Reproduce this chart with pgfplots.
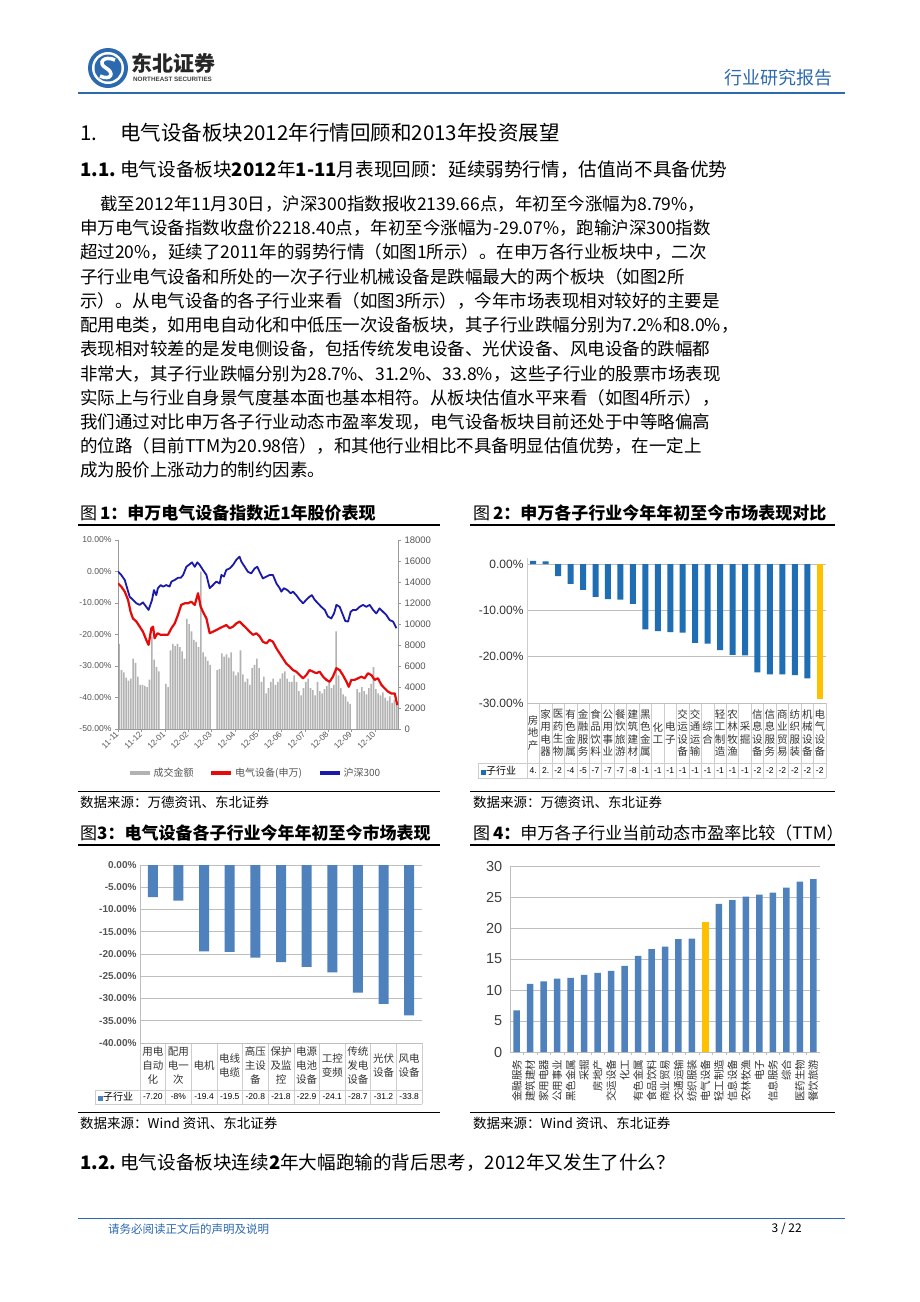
\documentclass[border=0pt]{standalone}
\usepackage{fontspec}
\usepackage{pgfplots}
\pgfplotsset{compat=1.18}
\setmainfont{Noto Sans CJK SC}
\newfontfamily\arial{Liberation Sans}
\definecolor{hdrblue}{RGB}{45,105,175}
\definecolor{barblue}{RGB}{31,110,180}
\definecolor{steel}{RGB}{79,129,189}
\definecolor{gold}{RGB}{255,192,0}
\definecolor{volgray}{RGB}{178,178,178}
\definecolor{txtgray}{RGB}{85,85,85}
\definecolor{gridgray}{RGB}{190,190,190}
\definecolor{cellgray}{RGB}{205,205,205}
\definecolor{hsred}{RGB}{230,10,10}
\definecolor{hsblue}{RGB}{25,25,170}
\newcommand\fs[2]{\fontsize{#1}{#2}\selectfont}

\begin{document}
\begin{tikzpicture}
\path[use as bounding box, fill=white] (0,0) rectangle (920pt,-1302pt);

% ---------- page furniture and text (pixel coordinates) ----------
\begin{scope}[x=1pt, y=-1pt, every node/.style={inner sep=0pt, anchor=west}]
  % logo
  \fill[hdrblue] (108,68) circle (20);
  \fill[white] (108,68) circle (16);
  \fill[hdrblue] (108,68) circle (13.5);
  \draw[white, line width=3.5] (115,60) .. controls (104,55) and (97,63) .. (106,68)
        .. controls (115,73) and (111,81) .. (100,76);
  \node at (131,63) {\fs{21}{22}\bfseries\color{black!85}东北证券};
  \node at (133,79) {\arial\bfseries\fs{6.3}{7}\color{black!75}NORTHEAST SECURITIES};
  \node[anchor=east] at (833,78) {\fs{18}{20}\color{hdrblue}行业研究报告};
  \fill[hdrblue] (78,92) rectangle (845,94);

  % headings and body
  \node at (80,133) {\fs{20.5}{24}1.};
  \node at (120,133) {\fs{20.5}{24}电气设备板块2012年行情回顾和2013年投资展望};
  \node at (80,170) {\fs{18.6}{22}\bfseries 1.1.};
  \node at (120,170) {\fs{18.6}{22}电气设备板块\textbf{2012}年\textbf{1-11}月表现回顾：延续弱势行情，估值尚不具备优势};

  \begin{scope}[every node/.append style={font=\fs{17.5}{20}}]
  \node at (100,204) {截至2012年11月30日，沪深300指数报收2139.66点，年初至今涨幅为8.79\%，};
  \node at (80,228) {申万电气设备指数收盘价2218.40点，年初至今涨幅为-29.07\%，跑输沪深300指数};
  \node at (80,252) {超过20\%，延续了2011年的弱势行情（如图1所示）。在申万各行业板块中，二次};
  \node at (80,277) {子行业电气设备和所处的一次子行业机械设备是跌幅最大的两个板块（如图2所};
  \node at (80,301) {示）。从电气设备的各子行业来看（如图3所示），今年市场表现相对较好的主要是};
  \node at (80,325) {配用电类，如用电自动化和中低压一次设备板块，其子行业跌幅分别为7.2\%和8.0\%，};
  \node at (80,349) {表现相对较差的是发电侧设备，包括传统发电设备、光伏设备、风电设备的跌幅都};
  \node at (80,374) {非常大，其子行业跌幅分别为28.7\%、31.2\%、33.8\%，这些子行业的股票市场表现};
  \node at (80,398) {实际上与行业自身景气度基本面也基本相符。从板块估值水平来看（如图4所示），};
  \node at (80,422) {我们通过对比申万各子行业动态市盈率发现，电气设备板块目前还处于中等略偏高};
  \node at (80,446) {的位路（目前TTM为20.98倍），和其他行业相比不具备明显估值优势，在一定上};
  \node at (80,470) {成为股价上涨动力的制约因素。};
  \end{scope}

  % captions and rules
  \node at (80,513) {\fs{17}{20}图\,\textbf{1：申万电气设备指数近1年股价表现}};
  \node at (473,513) {\fs{17}{20}图\,\textbf{2：申万各子行业今年年初至今市场表现对比}};
  \fill (78,524) rectangle (440,526);
  \fill (470,524) rectangle (835,526);
  \fill (78,790.5) rectangle (440,791.7);
  \fill (470,790.5) rectangle (835,791.7);
  \node at (80,802) {\fs{13.5}{15}数据来源：万德资讯、东北证券};
  \node at (473,802) {\fs{13.5}{15}数据来源：万德资讯、东北证券};

  \node at (80,833) {\fs{17}{20}图\textbf{3：电气设备各子行业今年年初至今市场表现}};
  \node at (473,833) {\fs{17}{20}图\,\textbf{4：}申万各子行业当前动态市盈率比较（TTM）};
  \fill (78,844) rectangle (440,846);
  \fill (470,844) rectangle (835,846);
  \fill (78,1111.5) rectangle (440,1112.7);
  \fill (470,1111.5) rectangle (835,1112.7);
  \node at (80,1123) {\fs{13.5}{15}数据来源：Wind 资讯、东北证券};
  \node at (473,1123) {\fs{13.5}{15}数据来源：Wind 资讯、东北证券};

  \node at (80,1163) {\fs{18.6}{22}\bfseries 1.2.};
  \node at (120,1163) {\fs{18.6}{22}电气设备板块连续\textbf{2}年大幅跑输的背后思考，2012年又发生了什么？};

  % footer
  \fill[hdrblue] (78,1217.5) rectangle (845,1219);
  \node at (108,1229) {\fs{11.5}{13}\color{hdrblue}请务必阅读正文后的声明及说明};
  \node[anchor=east] at (802,1229) {\fs{12}{13}3 / 22};

  % table under figure 2
  \foreach \k in {0,...,24}
    \draw[cellgray, line width=0.6] ({527+12.4583*\k},703) -- ({527+12.4583*\k},778);
  \draw[cellgray, line width=0.6] (478,763) -- (826,763) (478,778) -- (826,778) (478,763) -- (478,778);
  \foreach \v [count=\i from 0] in {4.,2.,-2,-4,-5,-7,-7,-7,-8,-1,-1,-1,-1,-1,-1,-1,-1,-1,-2,-2,-2,-2,-2,-2}
    \node[anchor=center, font=\arial\fs{8.5}{9}] at ({533.2+12.4583*\i},771) {\v};
  \node at (481,771) {\textcolor{barblue}{\rule{5pt}{5pt}}\fs{10}{11}子行业};

  % table under figure 3
  \foreach \k in {0,...,11}
    \draw[cellgray, line width=0.6] ({140+25.636*\k},1043) -- ({140+25.636*\k},1104);
  \draw[cellgray, line width=0.6] (95,1090) -- (422,1090) (95,1104) -- (422,1104) (95,1090) -- (95,1104);
  \foreach \v [count=\i from 0] in {-7.20,-8\%,-19.4,-19.5,-20.8,-21.8,-22.9,-24.1,-28.7,-31.2,-33.8}
    \node[anchor=center, font=\arial\fs{8.5}{9}] at ({152.8+25.636*\i},1097) {\v};
  \node at (98,1097) {\textcolor{steel}{\rule{5pt}{5pt}}\fs{10}{11}子行业};
\end{scope}

% ---------- figure 1: volume (right axis) ----------
\begin{axis}[at={(118pt,-540pt)}, anchor=north west, scale only axis,
  width=280pt, height=189pt, xmin=0, xmax=12, ymin=0, ymax=18000,
  axis x line=none, axis y line*=right, axis line style={-, draw=txtgray!60},
  ytick={0,2000,...,18000}, scaled y ticks=false,
  ytick style={draw=txtgray!60}, tick align=outside, major tick length=3pt,
  yticklabel style={font=\arial\fs{9.5}{10}, text=txtgray},
  /pgf/number format/1000 sep={}, /pgf/number format/assume math mode=true]
\addplot[ybar, bar width=1.6pt, fill=volgray, draw=none] coordinates {
(0.05,8100) (0.15,5600) (0.25,5400) (0.35,4900) (0.45,4600) (0.55,4800) (0.65,6700) (0.75,6300) (0.85,5000) (0.95,4200)
(1.05,4200) (1.15,4100) (1.25,4000) (1.35,4700) (1.45,8800) (1.55,6600) (1.65,5900) (1.75,5500)
(2.05,4300) (2.15,4000) (2.25,7500) (2.35,8100) (2.45,7900) (2.55,8100) (2.65,7800) (2.75,7400) (2.85,6700) (2.95,10500)
(3.05,10000) (3.15,9300) (3.25,8500) (3.35,8300) (3.45,7800) (3.55,15000) (3.65,7300) (3.75,6900) (3.85,6500) (3.95,6100)
(4.25,5600) (4.35,5700) (4.45,7200) (4.55,6900) (4.65,7100) (4.75,6800) (4.85,7300) (4.95,5500)
(5.05,5100) (5.15,5400) (5.25,7500) (5.35,5200) (5.45,4500) (5.55,4800) (5.65,4200) (5.75,5800) (5.85,6100) (5.95,6700)
(6.05,5800) (6.15,4500) (6.25,5000) (6.35,3400) (6.45,3900) (6.55,4500) (6.65,4800) (6.75,4200) (6.85,4500) (6.95,4800)
(7.05,5300) (7.15,5500) (7.25,4800) (7.35,4500) (7.45,4500) (7.55,5100) (7.65,4500) (7.75,3600) (7.85,3200) (7.95,3900)
(8.05,4500) (8.15,4800) (8.25,3900) (8.35,3700) (8.45,3200) (8.55,4500) (8.65,3600) (8.75,3400) (8.85,3800) (8.95,4100)
(9.05,4500) (9.15,3900) (9.25,4200) (9.35,9300) (9.45,5100) (9.55,3900) (9.65,3300) (9.75,3100) (9.85,2600) (9.95,2400)
(10.25,3800) (10.35,3500) (10.45,4000) (10.55,3600) (10.65,3300) (10.75,3900) (10.85,4300) (10.95,5900)
(11.05,3800) (11.15,3400) (11.25,3200) (11.35,3500) (11.45,3000) (11.55,2700) (11.65,3100) (11.75,2500) (11.85,2800) (11.95,2400)
};
\end{axis}

% ---------- figure 1: index lines (left axis) ----------
\begin{axis}[at={(118pt,-540pt)}, anchor=north west, scale only axis,
  width=280pt, height=189pt, xmin=0, xmax=12, ymin=-50, ymax=10,
  axis y line*=left, axis x line*=bottom, axis line style={-, draw=txtgray!60},
  tick style={draw=txtgray!60}, tick align=outside, major tick length=3pt,
  ytick={-50,-40,...,10},
  yticklabels={-50.00\%,-40.00\%,-30.00\%,-20.00\%,-10.00\%,0.00\%,10.00\%},
  yticklabel style={font=\arial\fs{8.6}{9}, text=txtgray},
  xtick={0,...,11},
  xticklabels={11-11,11-12,12-01,12-02,12-03,12-04,12-05,12-06,12-07,12-08,12-09,12-10},
  xticklabel style={rotate=45, anchor=east, inner sep=1pt, font=\arial\fs{8.3}{9}, text=txtgray},
  legend style={at={(0.49,-0.233)}, anchor=center, draw=none, fill=none,
    legend columns=3, font=\fs{10}{11}, text=txtgray,
    /tikz/every even column/.append style={column sep=14pt}},
  legend image code/.code={\draw[#1, line width=3.5pt] (0pt,0pt) -- (20pt,0pt);}]
\addlegendimage{volgray}
\addlegendentry{成交金额}
\addplot[hsred, line width=2.2pt, line join=round, mark=none] coordinates {
(0.00,-3.8) (0.14,-4.8) (0.29,-6.4) (0.43,-9.0) (0.54,-12.8) (0.64,-14.9) (0.79,-15.9) (0.93,-17.5)
(1.07,-19.1) (1.21,-21.7) (1.31,-23.3) (1.43,-18.0) (1.50,-17.5) (1.57,-21.2) (1.69,-19.6) (1.83,-20.1)
(2.00,-20.1) (2.14,-20.1) (2.29,-18.0) (2.43,-16.5) (2.57,-13.8) (2.71,-10.6) (2.86,-10.1) (3.00,-10.1)
(3.14,-9.6) (3.29,-10.6) (3.43,-6.9) (3.54,-11.1) (3.64,-12.8) (3.79,-14.9) (3.93,-19.6) (4.07,-19.1)
(4.21,-18.6) (4.36,-18.0) (4.50,-17.5) (4.64,-17.0) (4.79,-18.0) (4.93,-17.5) (5.07,-16.5) (5.21,-15.9)
(5.36,-17.0) (5.50,-18.0) (5.64,-19.1) (5.79,-20.1) (5.93,-19.6) (6.07,-20.6) (6.21,-22.3) (6.36,-22.8)
(6.50,-21.7) (6.64,-22.3) (6.79,-24.4) (6.93,-26.0) (7.07,-27.6) (7.21,-29.2) (7.36,-30.2) (7.50,-31.3)
(7.64,-31.8) (7.79,-32.9) (7.93,-33.9) (8.07,-32.9) (8.21,-31.3) (8.36,-31.8) (8.50,-32.3) (8.64,-31.8)
(8.79,-33.4) (8.93,-34.4) (9.07,-35.0) (9.21,-33.4) (9.36,-30.7) (9.50,-31.3) (9.64,-32.9) (9.79,-35.0)
(9.89,-36.6) (10.00,-34.4) (10.14,-34.4) (10.29,-33.9) (10.43,-33.4) (10.57,-33.9) (10.71,-32.3) (10.86,-32.9)
(11.00,-34.4) (11.14,-33.9) (11.29,-36.0) (11.43,-37.1) (11.57,-38.1) (11.71,-38.7) (11.86,-38.7) (11.97,-42.4)
};
\addlegendentry{电气设备(申万)}
\addplot[hsblue, line width=1.8pt, line join=round, mark=none] coordinates {
(0.00,0.0) (0.14,-1.1) (0.29,-2.7) (0.50,-8.0) (0.64,-9.0) (0.79,-10.1) (0.93,-10.6) (1.07,-9.8)
(1.21,-11.2) (1.31,-12.2) (1.46,-9.0) (1.54,-5.9) (1.64,-7.5) (1.71,-5.3) (1.83,-4.3) (1.93,-4.8)
(2.07,-4.3) (2.21,-4.8) (2.29,-3.2) (2.43,-2.7) (2.57,-2.0) (2.69,-2.0) (2.79,-1.1) (2.93,1.5)
(3.07,2.3) (3.17,2.9) (3.29,1.5) (3.40,2.9) (3.50,2.1) (3.64,0.5) (3.79,-1.1) (3.93,-5.3)
(4.07,-4.3) (4.21,-3.2) (4.36,-3.8) (4.43,-1.1) (4.54,-1.6) (4.64,0.5) (4.79,1.0) (4.93,2.1)
(5.07,3.7) (5.21,4.7) (5.29,3.1) (5.43,1.5) (5.57,-0.1) (5.71,-0.6) (5.86,1.0) (5.97,1.5)
(6.07,-0.1) (6.21,-2.2) (6.36,-1.6) (6.50,-1.1) (6.64,-1.1) (6.79,-3.8) (6.93,-5.3) (7.00,-6.4)
(7.11,-5.3) (7.26,-5.9) (7.40,-6.9) (7.50,-6.4) (7.64,-7.5) (7.79,-9.0) (7.93,-10.1) (8.07,-9.0)
(8.21,-8.0) (8.31,-7.5) (8.43,-9.0) (8.57,-10.1) (8.71,-11.2) (8.86,-12.2) (9.00,-14.3) (9.14,-14.9)
(9.26,-13.3) (9.36,-10.6) (9.50,-11.2) (9.64,-13.8) (9.74,-15.7) (9.86,-15.9) (9.97,-12.8) (10.07,-12.2)
(10.21,-12.2) (10.36,-11.2) (10.50,-10.6) (10.64,-11.2) (10.79,-10.6) (10.93,-12.2) (11.07,-13.3) (11.21,-11.7)
(11.36,-12.8) (11.50,-13.8) (11.64,-15.4) (11.79,-15.9) (11.93,-18.0)
};
\addlegendentry{沪深300}
\end{axis}

% ---------- figure 2 ----------
\begin{axis}[at={(527pt,-558pt)}, anchor=north west, scale only axis,
  width=299pt, height=145pt, xmin=-0.5, xmax=23.5, ymin=-30, ymax=1.3,
  separate axis lines, axis x line*=bottom, axis y line*=left,
  x axis line style={draw=none}, y axis line style={-, draw=cellgray},
  tick style={draw=none},
  ymajorgrids, grid style={gridgray, line width=0.6pt},
  ytick={-30,-20,-10,0},
  yticklabels={-30.00\%,-20.00\%,-10.00\%,0.00\%},
  yticklabel style={font=\arial\fs{12}{13}, text=black!80},
  xtick={0,...,23},
  xticklabels={{房\\地\\产},{家\\用\\电\\器},{医\\药\\生\\物},{有\\色\\金\\属},{金\\融\\服\\务},{食\\品\\饮\\料},{公\\用\\事\\业},{餐\\饮\\旅\\游},{建\\筑\\建\\材},{黑\\色\\金\\属},{化\\工},{电\\子},{交\\运\\设\\备},{交\\通\\运\\输},{综\\合},{轻\\工\\制\\造},{农\\林\\牧\\渔},{采\\掘},{信\\息\\设\\备},{信\\息\\服\\务},{商\\业\\贸\\易},{纺\\织\\服\\装},{机\\械\\设\\备},{电\\气\\设\\备}},
  xticklabel style={font=\fs{10.5}{12.5}, align=center, anchor=center, inner sep=0pt, yshift=-30pt, text=black!80}]
\addplot[ybar, bar width=6pt, bar shift=0pt, fill=barblue, draw=none] coordinates {
(0,0.7) (1,0.6) (2,-2.6) (3,-4.3) (4,-5.6) (5,-7.1) (6,-7.6) (7,-7.7) (8,-8.6) (9,-14.1) (10,-14.5) (11,-14.7)
(12,-14.8) (13,-17.0) (14,-17.2) (15,-18.6) (16,-19.6) (17,-19.7) (18,-23.4) (19,-23.8) (20,-23.8) (21,-24.0) (22,-24.7)
};
\addplot[ybar, bar width=6pt, bar shift=0pt, fill=gold, draw=none] coordinates {(23,-29.07)};
\end{axis}

% ---------- figure 3 ----------
\begin{axis}[at={(140pt,-865pt)}, anchor=north west, scale only axis,
  width=282pt, height=178pt, xmin=-0.5, xmax=10.5, ymin=-40, ymax=0,
  separate axis lines, axis x line*=bottom, axis y line*=left,
  x axis line style={draw=none}, y axis line style={-, draw=gridgray},
  tick style={draw=none},
  ymajorgrids, grid style={gridgray, line width=0.6pt},
  ytick={-40,-35,...,0},
  yticklabels={-40.00\%,-35.00\%,-30.00\%,-25.00\%,-20.00\%,-15.00\%,-10.00\%,-5.00\%,0.00\%},
  yticklabel style={font=\arial\bfseries\fs{10}{11}, text=txtgray},
  xtick={0,...,10},
  xticklabels={{用电\\自动\\化},{配用\\电一\\次},{电机},{电线\\电缆},{高压\\主设\\备},{保护\\及监\\控},{电源\\电池\\设备},{工控\\变频},{传统\\发电\\设备},{光伏\\设备},{风电\\设备}},
  xticklabel style={font=\fs{10.5}{14}, align=center, anchor=center, inner sep=0pt, yshift=-22.5pt, text=black!80}]
\addplot[ybar, bar width=10pt, bar shift=0pt, fill=steel, draw=none] coordinates {
(0,-7.20) (1,-8.0) (2,-19.4) (3,-19.5) (4,-20.8) (5,-21.8) (6,-22.9) (7,-24.1) (8,-28.7) (9,-31.2) (10,-33.8)
};
\end{axis}

% ---------- figure 4 ----------
\begin{axis}[at={(510pt,-866pt)}, anchor=north west, scale only axis,
  width=310pt, height=186pt, xmin=-0.5, xmax=22.5, ymin=0, ymax=30,
  separate axis lines, axis x line*=bottom, axis y line*=left,
  axis line style={-, draw=gridgray},
  ymajorgrids, grid style={gridgray, line width=0.6pt},
  major tick style={draw=none}, minor x tick num=1,
  minor x tick style={draw=gridgray}, minor tick length=3pt, tick align=outside,
  ytick={0,5,...,30},
  yticklabel style={font=\arial\fs{14.5}{15}, text=black!75},
  /pgf/number format/assume math mode=true,
  xtick={0,...,22},
  xticklabels={金融服务,建筑建材,家用电器,公用事业,黑色金属,采掘,房地产,交运设备,化工,有色金属,食品饮料,商业贸易,交通运输,纺织服装,电气设备,轻工制造,信息设备,农林牧渔,电子,信息服务,综合,医药生物,餐饮旅游},
  xticklabel style={rotate=90, anchor=east, font=\fs{10.5}{11}, text=black!80}]
\addplot[ybar, bar width=6.5pt, bar shift=0pt, fill=steel, draw=none] coordinates {
(0,6.7) (1,11.0) (2,11.4) (3,11.85) (4,11.96) (5,12.45) (6,12.77) (7,13.1) (8,13.9) (9,15.5) (10,16.6)
(11,17.0) (12,18.2) (13,18.3) (15,23.9) (16,24.5) (17,25.05) (18,25.4) (19,25.7) (20,26.5) (21,27.5) (22,27.9)
};
\addplot[ybar, bar width=6.5pt, bar shift=0pt, fill=gold, draw=none] coordinates {(14,20.98)};
\end{axis}
\end{tikzpicture}
\end{document}
